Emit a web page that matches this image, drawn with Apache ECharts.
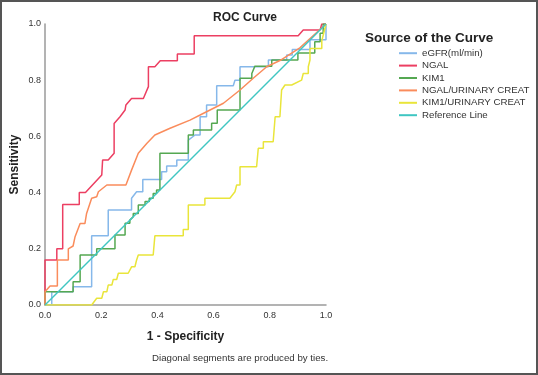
<!DOCTYPE html>
<html>
<head>
<meta charset="utf-8">
<script src="https://cdn.jsdelivr.net/npm/echarts@6/dist/echarts.min.js"></script>
<style>
  html, body { margin: 0; padding: 0; background: #fff; }
  #chart { width: 538px; height: 375px; }
</style>
</head>
<body>
<div id="chart"></div>
<script>
// ROC points, [1 - specificity, sensitivity]
var egfrRoc = [[0,0],[0.024,0],[0.024,0.047],[0.1,0.047],[0.1,0.065],[0.166,0.065],[0.166,0.246],[0.225,0.246],
  [0.225,0.338],[0.308,0.338],[0.308,0.38],[0.326,0.403],[0.348,0.403],[0.348,0.447],[0.415,0.447],[0.415,0.474],
  [0.433,0.474],[0.433,0.495],[0.469,0.495],[0.469,0.516],[0.51,0.516],[0.51,0.587],[0.534,0.605],[0.552,0.605],
  [0.552,0.67],[0.575,0.67],[0.575,0.712],[0.611,0.712],[0.611,0.78],[0.67,0.78],[0.676,0.8],[0.694,0.8],
  [0.694,0.848],[0.795,0.848],[0.795,0.872],[0.86,0.872],[0.86,0.89],[0.88,0.89],[0.88,0.909],[0.943,0.909],
  [0.943,0.944],[1,0.944],[1,1]];
var ngalRoc = [[0,0],[0,0.16],[0.042,0.16],[0.042,0.2],[0.063,0.2],[0.063,0.358],[0.122,0.358],[0.122,0.4],
  [0.144,0.4],[0.202,0.463],[0.205,0.516],[0.225,0.516],[0.246,0.54],[0.246,0.646],[0.267,0.67],[0.285,0.694],
  [0.288,0.712],[0.308,0.735],[0.35,0.735],[0.368,0.777],[0.368,0.848],[0.391,0.848],[0.41,0.869],[0.471,0.869],
  [0.471,0.893],[0.531,0.893],[0.531,0.958],[0.901,0.958],[0.919,0.979],[0.979,0.979],[0.985,1],[1,1]];
var kim1Roc = [[0,0],[0,0.047],[0.1,0.047],[0.1,0.083],[0.125,0.083],[0.125,0.178],[0.184,0.178],[0.184,0.2],
  [0.249,0.2],[0.249,0.249],[0.285,0.249],[0.285,0.291],[0.302,0.291],[0.302,0.302],[0.314,0.314],[0.314,0.326],
  [0.332,0.326],[0.332,0.356],[0.356,0.356],[0.356,0.368],[0.371,0.368],[0.371,0.38],[0.385,0.38],[0.385,0.397],
  [0.397,0.397],[0.397,0.409],[0.409,0.409],[0.409,0.54],[0.51,0.54],[0.51,0.605],[0.528,0.605],[0.528,0.623],
  [0.593,0.623],[0.593,0.647],[0.613,0.647],[0.613,0.694],[0.694,0.694],[0.694,0.807],[0.736,0.807],[0.736,0.824],
  [0.747,0.85],[0.807,0.85],[0.807,0.872],[0.9,0.872],[0.9,0.897],[0.96,0.897],[0.96,0.937],[0.979,0.937],
  [0.979,0.967],[0.99,0.967],[0.99,1],[1,1]];
var ngalCreatRoc = [[0,0],[0,0.047],[0.018,0.068],[0.044,0.068],[0.044,0.16],[0.083,0.16],[0.083,0.2],[0.1,0.21],
  [0.107,0.243],[0.125,0.29],[0.142,0.29],[0.148,0.326],[0.166,0.38],[0.184,0.385],[0.19,0.403],[0.22,0.427],
  [0.288,0.427],[0.308,0.48],[0.332,0.54],[0.362,0.575],[0.391,0.605],[0.445,0.629],[0.516,0.658],[0.552,0.676],
  [0.635,0.718],[0.694,0.765],[0.741,0.807],[0.789,0.848],[0.836,0.87],[0.907,0.915],[1,1]];
var kim1CreatRoc = [[0,0],[0.166,0],[0.184,0.024],[0.202,0.024],[0.208,0.047],[0.22,0.047],[0.225,0.071],
  [0.238,0.071],[0.243,0.091],[0.255,0.091],[0.261,0.113],[0.296,0.113],[0.308,0.136],[0.32,0.136],[0.326,0.16],
  [0.332,0.178],[0.385,0.178],[0.391,0.246],[0.492,0.246],[0.492,0.269],[0.51,0.269],[0.51,0.356],[0.569,0.356],
  [0.569,0.38],[0.658,0.38],[0.676,0.403],[0.682,0.427],[0.694,0.427],[0.694,0.492],[0.753,0.492],[0.759,0.558],
  [0.777,0.558],[0.777,0.581],[0.812,0.581],[0.819,0.67],[0.836,0.67],[0.842,0.765],[0.854,0.783],[0.878,0.783],
  [0.913,0.8],[0.919,0.824],[0.937,0.824],[0.937,0.848],[0.943,0.872],[0.943,0.913],[0.985,0.913],[0.985,0.94],
  [0.99,0.96],[1,1]];
var referenceLine = [[0,0],[1,1]];

var seriesNames = ['eGFR(ml/min)', 'NGAL', 'KIM1', 'NGAL/URINARY CREAT', 'KIM1/URINARY CREAT', 'Reference Line'];
var seriesData = [egfrRoc, ngalRoc, kim1Roc, ngalCreatRoc, kim1CreatRoc, referenceLine];
var seriesColors = ['#86b8ea', '#ec3f62', '#55a852', '#fa8c5c', '#e9e53a', '#3fc6c2'];

var chart = echarts.init(document.getElementById('chart'));

var series = [];
for (var i = 0; i < seriesNames.length; i++) {
  series.push({
    name: seriesNames[i],
    type: 'line',
    data: seriesData[i],
    symbol: 'none',
    silent: true,
    animation: false,
    color: seriesColors[i],
    lineStyle: { width: 1.5, color: seriesColors[i] }
  });
}

var axisText = { color: '#333', fontSize: 9, fontFamily: 'Liberation Sans, Arial' };

var option = {
  animation: false,
  title: {
    text: 'ROC Curve',
    left: 240,
    top: 7,
    textAlign: 'center',
    textStyle: { fontSize: 12, fontWeight: 'bold', color: '#222', fontFamily: 'Liberation Sans, Arial' }
  },
  grid: { left: 45, right: 212, top: 24, bottom: 70, outerBoundsMode: 'none' },
  xAxis: {
    type: 'value', min: 0, max: 1, interval: 0.2,
    name: '1 - Specificity', nameLocation: 'middle', nameGap: 26,
    nameTextStyle: { fontSize: 12, fontWeight: 'bold', color: '#222', fontFamily: 'Liberation Sans, Arial' },
    axisLine: { show: true, lineStyle: { color: '#9a9a9a', width: 1.5 } },
    axisTick: { show: false },
    splitLine: { show: false },
    axisLabel: Object.assign({ margin: 6, formatter: function (v) { return v.toFixed(1); } }, axisText)
  },
  yAxis: {
    type: 'value', min: 0, max: 1, interval: 0.2,
    name: 'Sensitivity', nameLocation: 'middle', nameGap: 24, nameMoveOverlap: false,
    nameTextStyle: { fontSize: 12, fontWeight: 'bold', color: '#222', fontFamily: 'Liberation Sans, Arial' },
    axisLine: { show: true, lineStyle: { color: '#9a9a9a', width: 1.5 } },
    axisTick: { show: false },
    splitLine: { show: false },
    axisLabel: Object.assign({ margin: 4, formatter: function (v) { return v.toFixed(1); } }, axisText)
  },
  legend: {
    orient: 'vertical',
    left: 399,
    top: 47,
    padding: 0,
    icon: 'rect',
    itemWidth: 18,
    itemHeight: 2,
    itemGap: 0,
    selectedMode: false,
    data: seriesNames,
    textStyle: { fontSize: 9.7, lineHeight: 12.4, color: '#333', fontFamily: 'Liberation Sans, Arial' }
  },
  graphic: [
    {
      type: 'text', left: 365, top: 31,
      style: { text: 'Source of the Curve', font: 'bold 13.5px "Liberation Sans", Arial', fill: '#222' }
    },
    {
      type: 'text', left: 152, top: 353,
      style: { text: 'Diagonal segments are produced by ties.', font: '9.7px "Liberation Sans", Arial', fill: '#333' }
    },
    {
      type: 'rect', silent: true,
      shape: { x: 1, y: 1, width: 536, height: 373 },
      style: { fill: 'none', stroke: '#555', lineWidth: 2 }
    }
  ],
  series: series
};

chart.setOption(option);
</script>
</body>
</html>
